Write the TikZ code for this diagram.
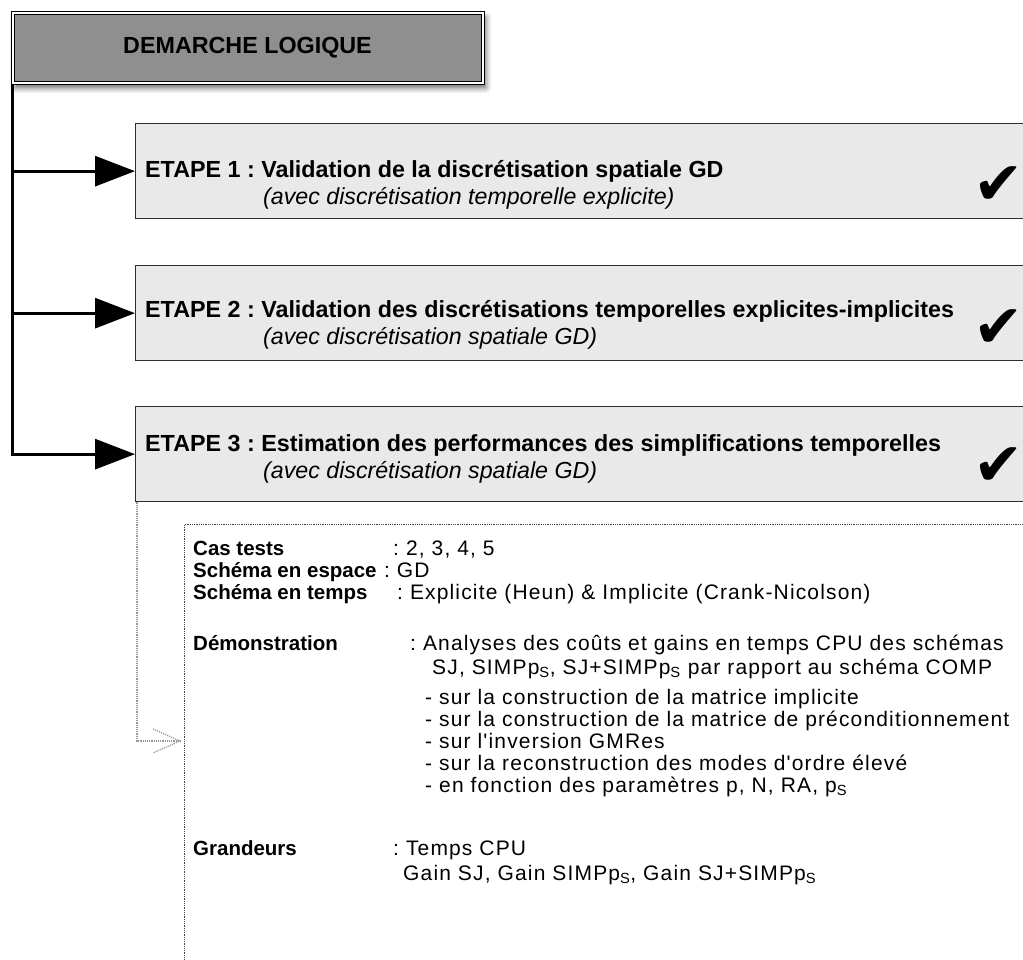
\documentclass[tikz,border=0pt]{standalone}
\usepackage{fontspec}
\setmainfont{Liberation Sans}
\newfontfamily\checkfont{DejaVu Sans}
\newfontfamily\spacedfont[LetterSpace=5.5]{Liberation Sans}
\usepackage{xcolor}
\usetikzlibrary{arrows.meta, shadows.blur, calc}
\definecolor{titlegray}{RGB}{143,143,143}
\definecolor{stepgray}{RGB}{233,233,233}
\definecolor{edgegray}{RGB}{45,45,45}
\definecolor{dotgray}{RGB}{150,150,150}
\newcommand{\pS}{p\textsubscript{S}}
\frenchspacing

\begin{document}
\begin{tikzpicture}[x=1pt, y=-1pt,
    titlebox/.style={draw=black, line width=1pt, double=white, double distance=2pt,
        fill=titlegray, minimum width=470pt, minimum height=70pt, inner sep=0pt,
        font=\fontsize{23.3}{27}\selectfont\bfseries,
        blur shadow={shadow xshift=3pt, shadow yshift=-5pt, shadow blur radius=6pt, shadow opacity=65}},
    stepbox/.style={draw=edgegray, line width=1.3pt, fill=stepgray, anchor=north west,
        minimum width=905pt, minimum height=95pt, inner sep=0pt},
    detailbox/.style={draw=black!75, densely dotted, line width=0.8pt, anchor=north west,
        minimum width=860pt, minimum height=470pt, inner sep=0pt},
    headtxt/.style={anchor=base west, inner sep=0pt, font=\fontsize{23.3}{27}\selectfont\bfseries},
    subtxt/.style={anchor=base west, inner sep=0pt, font=\fontsize{23.2}{27}\selectfont\itshape},
    keytxt/.style={anchor=base west, inner sep=0pt, font=\fontsize{20.5}{24}\selectfont\bfseries},
    valtxt/.style={anchor=base west, inner sep=0pt, font=\spacedfont\fontsize{21}{24}\selectfont},
    tick/.style={inner sep=0pt, font=\checkfont\fontsize{60}{60}\selectfont},
    feed/.style={line width=3pt, -{Triangle[length=40pt, width=30pt]}},
    dotlink/.style={draw=dotgray, densely dotted, line width=1.2pt}]

\clip (0,0) rectangle (1023,959);

% Title
\node[titlebox] (title) at (247.5,47.5) {DEMARCHE LOGIQUE};

% The three steps
\node[stepbox] (etape1) at (135,123) {};
\node[stepbox] (etape2) at (135,265) {};
\node[stepbox] (etape3) at (135,406) {};

\node[headtxt] (titre1) at (145,177) {ETAPE 1 : Validation de la discrétisation spatiale GD};
\node[subtxt] (sous1) at (263,204) {(avec discrétisation temporelle explicite)};
\node[headtxt] (titre2) at (145,317) {ETAPE 2 : Validation des discrétisations temporelles explicites-implicites};
\node[subtxt] (sous2) at (263,344) {(avec discrétisation spatiale GD)};
\node[headtxt] (titre3) at (145,451) {ETAPE 3 : Estimation des performances des simplifications temporelles};
\node[subtxt] (sous3) at (263,478) {(avec discrétisation spatiale GD)};

\node[tick] (ok1) at (999,186) {✔};
\node[tick] (ok2) at (999,329) {✔};
\node[tick] (ok3) at (999,467) {✔};

% Trunk and arrows
\coordinate (racine) at (12,85);
\draw[feed] (racine) |- (etape3.west);
\draw[feed] (racine |- etape1.west) -- (etape1.west);
\draw[feed] (racine |- etape2.west) -- (etape2.west);

% Details of step 3
\node[detailbox] (details) at (184,524) {};
\coordinate (pointe) at (180,741);
\draw[dotlink] ($(etape3.south west)+(2,0)$) |- (pointe);
\draw[dotlink] ($(pointe)+(-27,-12)$) -- (pointe) -- ($(pointe)+(-27,12)$);

\node[keytxt] (castests) at (193,555) {Cas tests};
\node[valtxt] (casval) at (393,555) {: 2, 3, 4, 5};
\node[keytxt] (espace) at (193,577) {Schéma en espace};
\node[valtxt] (espval) at (espace.base east) {\ : GD};
\node[keytxt] (temps) at (193,599) {Schéma en temps};
\node[valtxt] (tpsval) at (397,599) {: Explicite (Heun) \& Implicite (Crank-Nicolson)};

\node[keytxt] (demo) at (193,650) {Démonstration};
\node[valtxt] (demoval) at (410,650) {: Analyses des coûts et gains en temps CPU des schémas};
\node[valtxt] (demoval2) at (432,674) {SJ, SIMP\pS, SJ+SIMP\pS{} par rapport au schéma COMP};
\node[valtxt] (item1) at (425,704) {- sur la construction de la matrice implicite};
\node[valtxt] (item2) at (425,726) {- sur la construction de la matrice de préconditionnement};
\node[valtxt] (item3) at (425,748) {- sur l'inversion GMRes};
\node[valtxt] (item4) at (425,770) {- sur la reconstruction des modes d'ordre élevé};
\node[valtxt] (item5) at (425,792) {- en fonction des paramètres p, N, RA, \pS};

\node[keytxt] (grandeurs) at (193,855) {Grandeurs};
\node[valtxt] (grval) at (393,855) {: Temps CPU};
\node[valtxt] (grval2) at (403,880) {Gain SJ, Gain SIMP\pS, Gain SJ+SIMP\pS};

\end{tikzpicture}
\end{document}
